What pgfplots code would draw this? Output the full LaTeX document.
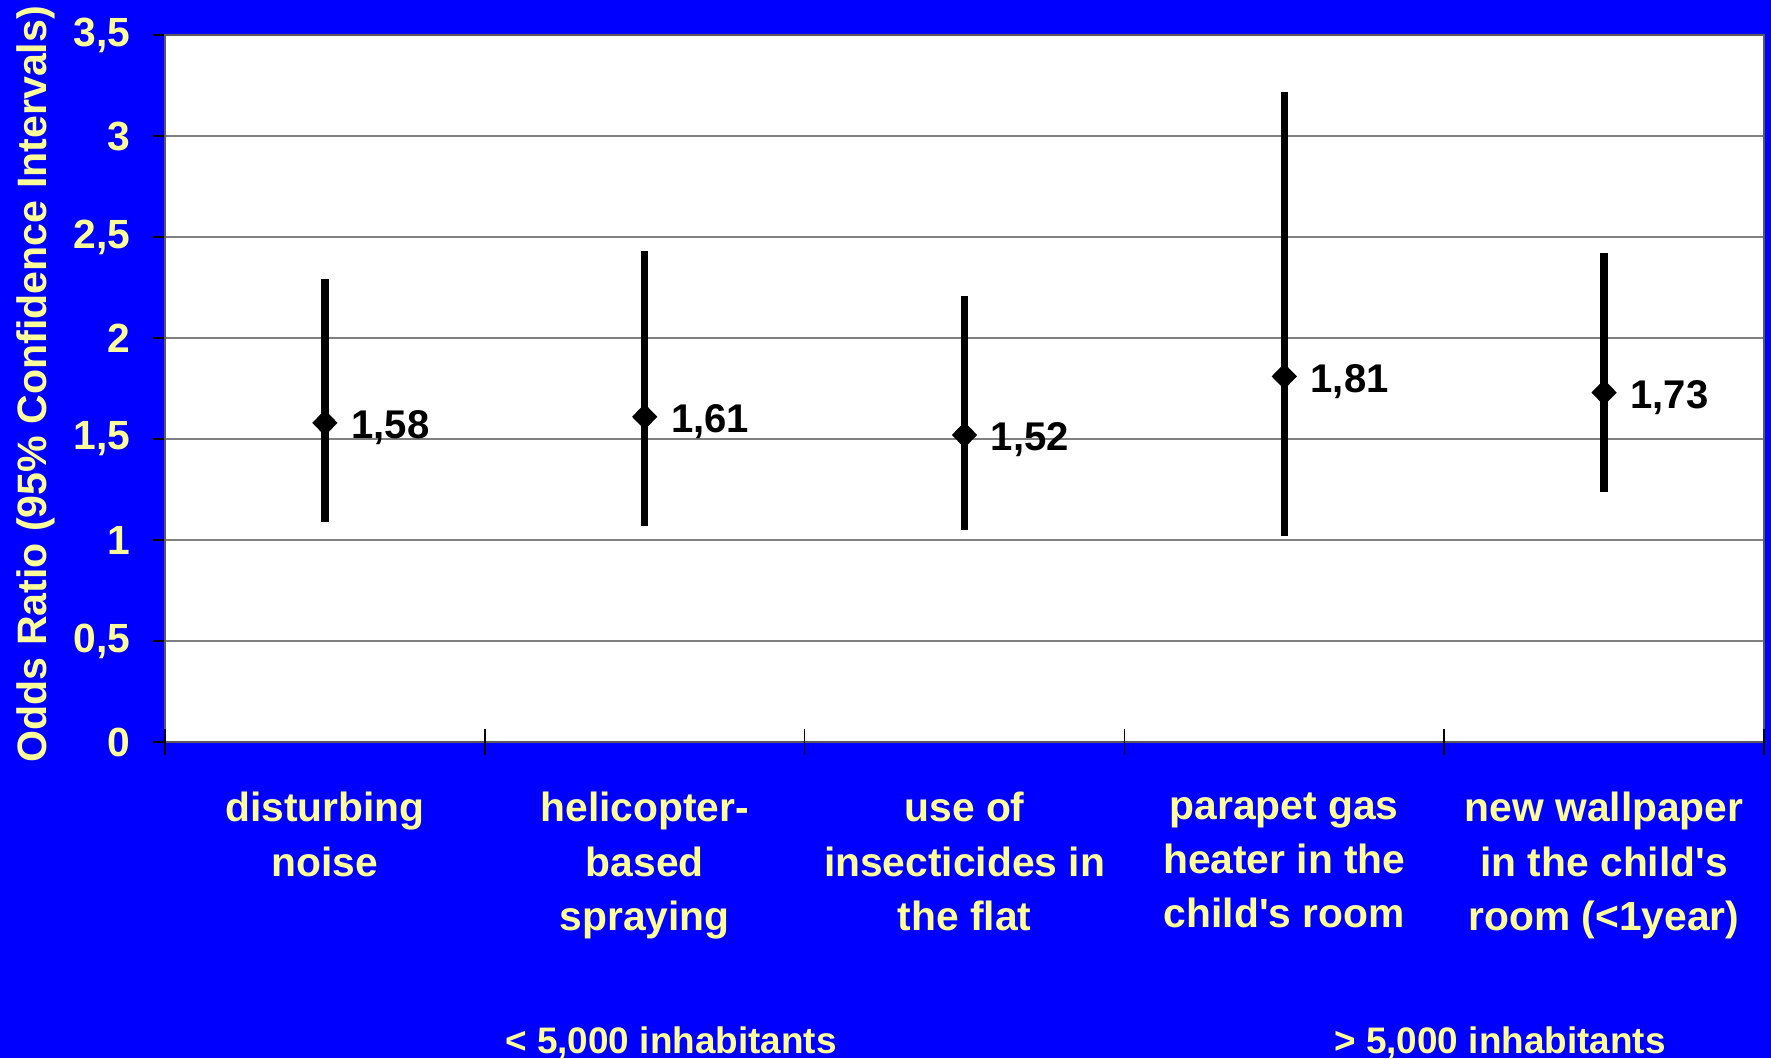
\documentclass[border=0pt]{standalone}
\usepackage{pgfplots}
\usepackage{pgfplotstable}
\pgfplotsset{compat=1.18}
\usepackage{fontspec}
\setmainfont{Liberation Sans}
\definecolor{bgblue}{RGB}{0,0,255}
\definecolor{lyellow}{RGB}{255,255,153}
\definecolor{gridgray}{RGB}{128,128,128}

% odds ratio, upper and lower distance to the 95% CI limits
\pgfplotstableread{
x y    ep   em   lbl
1 1.58 0.71 0.49 1,58
2 1.61 0.82 0.54 1,61
3 1.52 0.69 0.47 1,52
4 1.81 1.41 0.79 1,81
5 1.73 0.69 0.49 1,73
}\ortable

\begin{document}
\begin{tikzpicture}
\useasboundingbox (0,0) rectangle (177.1mm,105.8mm);
\fill[bgblue] (0,0) rectangle (177.1mm,105.8mm);
\begin{axis}[
    at={(16.5mm,31.6mm)}, anchor=south west,
    scale only axis, width=159.9mm, height=70.7mm,
    axis background/.style={fill=white},
    xmin=0.5, xmax=5.5, ymin=0, ymax=3.5,
    ytick={0,0.5,...,3.5},
    xtick={1,...,5},
    xticklabels={disturbing\\noise, helicopter-\\based\\spraying, use of\\insecticides in\\the flat, parapet gas\\heater in the\\child\textquotesingle s room, new wallpaper\\in the child\textquotesingle s\\room (<1year)},
    xtick pos=lower, ytick pos=left,
    xtick style={draw=none},
    extra x ticks={0.5,1.5,...,5.5},
    extra x tick labels={},
    extra x tick style={tick align=center, major tick length=2.6mm, xtick style={draw=black, line width=0.4pt}},
    tick align=outside, major tick length=1.2mm,
    ytick style={black, line width=0.6pt},
    ymajorgrids, grid style={gridgray, line width=0.5pt},
    axis line style={gridgray!70!black, line width=0.8pt},
    /pgf/number format/assume math mode=true,
    /pgf/number format/use comma,
    yticklabel style={text=lyellow, font=\fontsize{11.6}{14}\selectfont\bfseries, xshift=-1mm},
    xticklabel style={text=lyellow, font=\fontsize{11.6}{15.4}\selectfont\bfseries, align=center, anchor=north, yshift=-2.6mm},
    ylabel={Odds Ratio (95\% Confidence Intervals)},
    ylabel style={at={(axis description cs:-0.081,0.506)}, anchor=center, text=lyellow, font=\fontsize{11.7}{14}\selectfont\bfseries},
    nodes near coords,
    point meta=explicit symbolic,
    every node near coord/.append style={anchor=west, xshift=1.4mm, yshift=-0.5mm, text=black, font=\fontsize{11.4}{13}\selectfont\bfseries},
]
\addplot[black, mark=diamond*, mark size=3.4pt, mark options={xscale=1.3}, only marks,
    error bars/.cd, y dir=both, y explicit, error mark=none,
    error bar style={line width=2.1pt, black}]
    table[x=x, y=y, y error plus=ep, y error minus=em, meta=lbl] {\ortable};
\end{axis}
\node[anchor=base, text=lyellow, font=\fontsize{10.5}{12}\selectfont\bfseries] at (67.1mm,0.5mm) {< 5,000 inhabitants};
\node[anchor=base, text=lyellow, font=\fontsize{10.5}{12}\selectfont\bfseries] at (150mm,0.5mm) {> 5,000 inhabitants};
\end{tikzpicture}
\end{document}
